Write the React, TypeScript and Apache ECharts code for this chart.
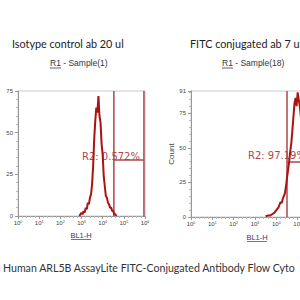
import React, { useEffect, useRef } from "react";
import * as echarts from "echarts";

const leftX = [2.9, 2.95, 3.0, 3.05, 3.1, 3.15, 3.2, 3.25, 3.3, 3.35, 3.4, 3.45, 3.5, 3.55, 3.6, 3.65, 3.7, 3.75, 3.8, 3.85, 3.9, 3.95, 4.0, 4.05, 4.1, 4.15, 4.2, 4.25, 4.3, 4.35, 4.4, 4.45, 4.5, 4.55, 4.6, 4.65];
const leftCounts = [0, 1, 2, 1, 3, 2, 5, 4, 8, 7, 11, 13, 19, 30, 46, 57, 65, 62, 72, 60, 56, 43, 37, 24, 18, 12, 11, 8, 7, 5, 5, 3, 3, 1, 1, 0];

const rightX = [3.5, 3.6, 3.7, 3.8, 3.9, 4.0, 4.1, 4.15, 4.2, 4.25, 4.3, 4.35, 4.4, 4.45, 4.5, 4.55, 4.6, 4.65, 4.7, 4.75, 4.8, 4.85, 4.9, 4.95, 5.0, 5.05, 5.1, 5.2, 5.3, 5.4, 5.5, 5.6, 5.7, 5.8, 5.9, 6.0];
const rightCounts = [0.5, 1, 1, 2, 3, 5, 7, 9, 11, 10, 13, 15, 17, 22, 28, 34, 40, 47, 53, 62, 72, 82, 86, 80, 90, 85, 80, 65, 45, 28, 15, 8, 4, 2, 1, 0];

const leftGate = { x1: 4.53, x2: 5.95, y: 33.6, label: "R2: 0.572%" };
const rightGate = { x1: 4.5, x2: 6.2, y: 39.7, label: "R2: 97.19%" };

const yTicksLeft = { max: 75, interval: 25 };
const yTicksRight = { max: 91, interval: 25 };

const titles = ["Isotype control ab 20 ul", "FITC conjugated ab 7 ul"];
const samples = ["Sample(1)", "Sample(18)"];
const caption = "Human ARL5B AssayLite FITC-Conjugated Antibody Flow Cyto";

const RED = "#a81414";
const GATE = "#b0454a";
const BLUE = "#34347a";

export default function App() {
  const ref = useRef<HTMLDivElement>(null);
  useEffect(() => {
    const chart = echarts.init(ref.current!, null, { renderer: "svg" });
    const xAxisCommon = (gridIndex: number) => ({
      type: "value",
      gridIndex,
      min: 0,
      max: 6,
      interval: 1,
      splitLine: { show: false },
      axisLine: { lineStyle: { color: "#999", width: 1 } },
      axisTick: { show: true, length: 3, lineStyle: { color: "#999" } },
      minorTick: { show: true, splitNumber: 5, length: 2, lineStyle: { color: "#bbb" } },
      axisLabel: {
        fontSize: 6,
        color: "#444",
        margin: 4,
        formatter: (v: number) => `10{s|${v}}`,
        rich: { s: { fontSize: 3.5, verticalAlign: "top", color: "#444" } },
      },
    });
    const yAxisCommon = (gridIndex: number, t: { max: number; interval: number }) => ({
      type: "value",
      gridIndex,
      min: 0,
      max: t.max,
      interval: t.interval,
      splitLine: { show: false },
      axisLine: { show: true, lineStyle: { color: "#999", width: 1 } },
      axisTick: { show: true, length: 3, lineStyle: { color: "#999" } },
      minorTick: { show: true, splitNumber: 5, length: 2, lineStyle: { color: "#bbb" } },
      axisLabel: { fontSize: 6, color: "#444", margin: 5 },
    });
    const gateSeries = (idx: number, g: typeof leftGate, max: number) =>
      [
        [[g.x1, 0], [g.x1, max]],
        [[g.x2, 0], [g.x2, max]],
        [[g.x1, g.y], [g.x2, g.y]],
      ].map((data) => ({
        type: "line",
        xAxisIndex: idx,
        yAxisIndex: idx,
        symbol: "none",
        silent: true,
        lineStyle: { color: GATE, width: 1.5 },
        data,
      }));
    const textBase = { fontFamily: "Lato", fill: "#222" };
    const sampleText = (x: number, s: string) => ({
      type: "text",
      x,
      y: 63,
      style: { text: "R1 - " + s, fontSize: 8.5, fill: "#333", fontFamily: "Liberation Sans", verticalAlign: "middle" },
    });
    chart.setOption({
      animation: false,
      grid: [
        { left: 18, top: 91, width: 127, height: 125, show: true, borderColor: "#ccc", borderWidth: 1, outerBoundsMode: "none", containLabel: false },
        { left: 191, top: 91, width: 128, height: 126, show: true, borderColor: "#ccc", borderWidth: 1, outerBoundsMode: "none", containLabel: false },
      ],
      xAxis: [xAxisCommon(0), xAxisCommon(1)],
      yAxis: [
        yAxisCommon(0, yTicksLeft),
        {
          ...yAxisCommon(1, yTicksRight),
          name: "Count",
          nameLocation: "middle",
          nameRotate: 90,
          nameGap: 16,
          nameTextStyle: { fontSize: 8, color: "#444", fontFamily: "Liberation Sans" },
        },
      ],
      series: [
        ...gateSeries(0, leftGate, yTicksLeft.max),
        ...gateSeries(1, rightGate, yTicksRight.max),
        {
          type: "line",
          xAxisIndex: 0,
          yAxisIndex: 0,
          symbol: "none",
          lineStyle: { color: RED, width: 2 },
          data: leftX.map((x, i) => [x, leftCounts[i]]),
        },
        {
          type: "line",
          xAxisIndex: 1,
          yAxisIndex: 1,
          symbol: "none",
          lineStyle: { color: RED, width: 2 },
          data: rightX.map((x, i) => [x, rightCounts[i]]),
        },
      ],
      graphic: [
        { type: "text", x: 12, y: 43, style: { ...textBase, text: titles[0], fontSize: 10.8, verticalAlign: "middle" } },
        { type: "text", x: 190, y: 43, style: { ...textBase, text: titles[1], fontSize: 10.8, verticalAlign: "middle" } },
        sampleText(50, samples[0]),
        sampleText(222, samples[1]),
        { type: "line", shape: { x1: 50, y1: 68, x2: 61, y2: 68 }, style: { stroke: BLUE, lineWidth: 0.8 } },
        { type: "line", shape: { x1: 222, y1: 68, x2: 233, y2: 68 }, style: { stroke: BLUE, lineWidth: 0.8 } },
        { type: "text", x: 82, y: 156, style: { text: leftGate.label, fontSize: 10, fill: "#b04552", fontFamily: "DejaVu Sans", verticalAlign: "middle" } },
        { type: "text", x: 248, y: 155, style: { text: rightGate.label, fontSize: 10, fill: "#b04552", fontFamily: "DejaVu Sans", verticalAlign: "middle" } },
        { type: "text", x: 81, y: 235, style: { text: "BL1-H", fontSize: 7.5, fill: BLUE, fontFamily: "Liberation Sans", align: "center", verticalAlign: "middle" } },
        { type: "line", shape: { x1: 71, y1: 239.5, x2: 91, y2: 239.5 }, style: { stroke: BLUE, lineWidth: 0.7 } },
        { type: "text", x: 257, y: 237, style: { text: "BL1-H", fontSize: 7.5, fill: BLUE, fontFamily: "Liberation Sans", align: "center", verticalAlign: "middle" } },
        { type: "line", shape: { x1: 247, y1: 241.5, x2: 267, y2: 241.5 }, style: { stroke: BLUE, lineWidth: 0.7 } },
        { type: "text", x: 3, y: 268, style: { ...textBase, text: caption, fontSize: 10.6, fill: "#333", verticalAlign: "middle" } },
      ],
    });
    return () => chart.dispose();
  }, []);
  return <div ref={ref} style={{ position: "fixed", left: 0, top: 0, width: 300, height: 300, background: "#fff" }} />;
}
